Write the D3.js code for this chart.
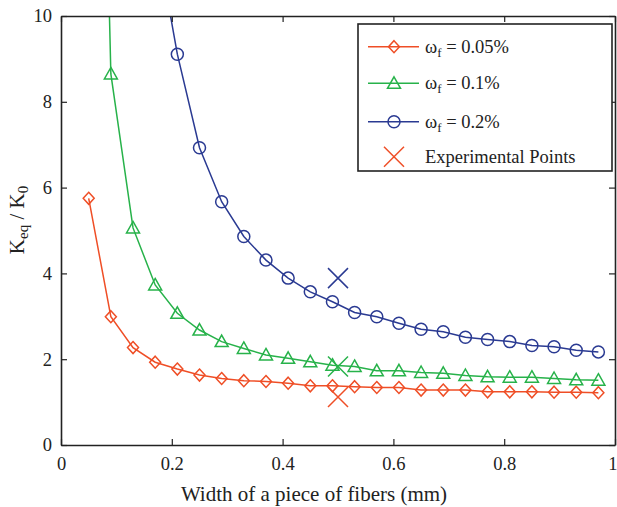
<!DOCTYPE html>
<html><head><meta charset="utf-8">
<script src="https://cdn.jsdelivr.net/npm/d3@7"></script>
<style>body{margin:0;background:#fff}svg{display:block}text{font-family:"Liberation Serif","Times New Roman",serif;fill:#222}</style>
</head><body><svg id="c" width="617" height="507"></svg>
<script>
const widths = [0.05,0.09,0.13,0.17,0.21,0.25,0.29,0.33,0.37,0.41,0.45,0.49,0.53,0.57,0.61,0.65,0.69,0.73,0.77,0.81,0.85,0.89,0.93,0.97];
const w005 = [5.75,2.99,2.27,1.93,1.77,1.63,1.55,1.50,1.48,1.44,1.38,1.38,1.36,1.34,1.34,1.28,1.28,1.28,1.24,1.24,1.24,1.23,1.23,1.22];
const w01  = [30,8.65,5.06,3.73,3.07,2.68,2.41,2.25,2.10,2.02,1.94,1.86,1.83,1.73,1.73,1.69,1.67,1.62,1.59,1.58,1.58,1.55,1.52,1.51];
const w02  = [null,null,null,12.0,9.11,6.93,5.67,4.86,4.31,3.89,3.57,3.34,3.09,2.99,2.84,2.70,2.64,2.51,2.46,2.41,2.32,2.29,2.21,2.17];
const expX = [0.5,0.5,0.5];
const expY = [1.12,1.83,3.89];
const xTicks = [0,0.2,0.4,0.6,0.8,1];
const yTicks = [0,2,4,6,8,10];
const seriesNames = ["0.05%","0.1%","0.2%"];
const colors = ["#EF4E26","#27B24A","#2A3A92"];

const svg = d3.select("#c");
const x = d3.scaleLinear().domain([0,1]).range([61,615]);
const y = d3.scaleLinear().domain([0,10]).range([445,16]);

svg.append("defs").append("clipPath").attr("id","clip").append("rect")
  .attr("x",61).attr("y",16).attr("width",554).attr("height",429);

const series = [w005,w01,w02];
const markers = ["diamond","triangle","circle"];

function drawMarker(g, type, cx, cy, color){
  if(type==="diamond"){
    g.append("path").attr("d",`M${cx},${cy-6}L${cx+5.5},${cy}L${cx},${cy+6}L${cx-5.5},${cy}Z`)
      .attr("fill","none").attr("stroke",color).attr("stroke-width",1.5);
  } else if(type==="triangle"){
    g.append("path").attr("d",`M${cx},${cy-6.5}L${cx+6.5},${cy+5}L${cx-6.5},${cy+5}Z`)
      .attr("fill","none").attr("stroke",color).attr("stroke-width",1.5);
  } else if(type==="circle"){
    g.append("circle").attr("cx",cx).attr("cy",cy).attr("r",6)
      .attr("fill","none").attr("stroke",color).attr("stroke-width",1.5);
  } else if(type==="cross"){
    g.append("path").attr("d",`M${cx-10},${cy-10}L${cx+10},${cy+10}M${cx+10},${cy-10}L${cx-10},${cy+10}`)
      .attr("stroke",color).attr("stroke-width",1.5).attr("fill","none");
  }
}

const plot = svg.append("g").attr("clip-path","url(#clip)");
series.forEach((vals,i)=>{
  const pts = widths.map((w,j)=>[w,vals[j]]).filter(d=>d[1]!=null);
  const line = d3.line().x(d=>x(d[0])).y(d=>y(d[1]));
  plot.append("path").attr("d",line(pts)).attr("fill","none").attr("stroke",colors[i]).attr("stroke-width",1.5);
  pts.filter(d=>d[1]<=10).forEach(d=>drawMarker(plot,markers[i],x(d[0]),y(d[1]),colors[i]));
});
expX.forEach((ex,i)=>drawMarker(plot,"cross",x(ex),y(expY[i]),colors[i]));

// axes
const ax = svg.append("g");
const xb = ax.append("g").attr("transform","translate(0,445)")
  .call(d3.axisBottom(x).tickValues(xTicks).tickSizeInner(-6).tickSizeOuter(0).tickPadding(12).tickFormat(d3.format("")));
ax.append("g").attr("transform","translate(0,16)")
  .call(d3.axisTop(x).tickValues(xTicks).tickSizeInner(-6).tickSizeOuter(0).tickFormat(""));
ax.append("g").attr("transform","translate(61,0)")
  .call(d3.axisLeft(y).tickValues(yTicks).tickSizeInner(-6).tickSizeOuter(0).tickPadding(9));
ax.append("g").attr("transform","translate(615,0)")
  .call(d3.axisRight(y).tickValues(yTicks).tickSizeInner(-6).tickSizeOuter(0).tickFormat(""));
ax.selectAll(".domain").attr("stroke","#222").attr("stroke-width",1.6);
ax.selectAll(".tick line").attr("stroke","#222").attr("stroke-width",1.2);
ax.selectAll(".tick text").attr("font-family","Liberation Serif").attr("font-size",18.5).attr("fill","#333");
xb.selectAll(".tick text").filter(d=>d===1).attr("text-anchor","end").attr("x",2);

// axis labels
svg.append("text").attr("x",314).attr("y",501).attr("text-anchor","middle")
  .attr("font-size",21).attr("fill","#333").text("Width of a piece of fibers (mm)");
const yl = svg.append("text").attr("transform","translate(24,220) rotate(-90)").attr("text-anchor","middle")
  .attr("font-size",21).attr("fill","#333");
yl.append("tspan").text("K");
yl.append("tspan").attr("font-size",15).attr("dy",4).text("eq");
yl.append("tspan").attr("dy",-4).text(" / K");
yl.append("tspan").attr("font-size",15).attr("dy",4).text("0");

// legend
const lg = svg.append("g");
lg.append("rect").attr("x",358).attr("y",24).attr("width",254).attr("height",147)
  .attr("fill","#fff").attr("stroke","#222").attr("stroke-width",1.6);
const rows = [46.7,83.3,121.7,156.7];
seriesNames.forEach((nm,i)=>{
  const ry = rows[i];
  lg.append("line").attr("x1",368).attr("x2",419).attr("y1",ry).attr("y2",ry).attr("stroke",colors[i]).attr("stroke-width",1.5);
  drawMarker(lg,markers[i],394,ry,colors[i]);
  const t = lg.append("text").attr("x",425).attr("y",ry+6).attr("font-size",18.5).attr("fill","#333");
  t.append("tspan").text("ω");
  t.append("tspan").attr("font-size",13).attr("dy",4).text("f");
  t.append("tspan").attr("dy",-4).text(" = "+nm);
});
drawMarker(lg,"cross",394,rows[3],colors[0]);
lg.append("text").attr("x",425).attr("y",rows[3]+6).attr("font-size",18.5).attr("fill","#333").text("Experimental Points");
</script></body></html>
